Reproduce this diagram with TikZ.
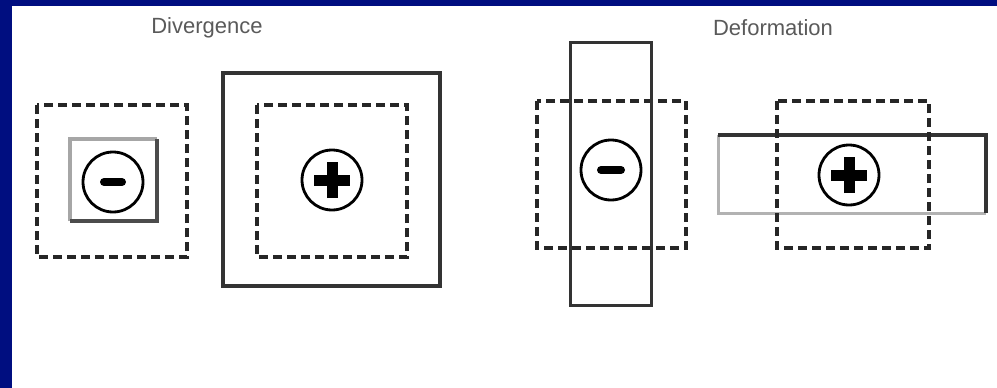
\documentclass[tikz,border=0pt]{standalone}
\usepackage{fontspec}
\setmainfont{Liberation Sans}
\definecolor{bgblue}{RGB}{0,14,128}
\definecolor{lbl}{RGB}{90,90,90}
\begin{document}
\begin{tikzpicture}[x=1pt,y=-1pt,
  dashsq/.style={draw=black!85, line width=3.5pt, dash pattern=on 9pt off 5pt},
  solidbox/.style={draw=black!80, line width=3pt},
  sign/.style={circle, draw=black, line width=2.8pt, minimum size=60pt, inner sep=0pt},
  bar/.style={line width=8pt, line cap=round},
  crossbar/.style={line width=11pt},
  title/.style={font=\fontsize{22}{24}\selectfont, text=lbl, inner sep=0pt}]
\useasboundingbox (0,0) rectangle (997,388);
\fill[bgblue] (0,0) rectangle (997,388);
\fill[white] (12,6) rectangle (997,388);

% titles
\node[title] (tdiv) at (207,28) {Divergence};
\node[title] (tdef) at (773,28) {Deformation};

% ---- Divergence, negative
\draw[dashsq] (37,105) rectangle (187,257);
\draw[line width=3.5pt, black!35] (70,221) -- (70,139) -- (157,139);
\draw[line width=3.5pt, black!70] (157,139) -- (157,221) -- (70,221);
\node[sign] (m1) at (113,182) {};
\draw[bar] ([xshift=-9pt]m1.center) -- ([xshift=9pt]m1.center);

% ---- Divergence, positive
\draw[solidbox, line width=4pt] (223,73) rectangle (440,286);
\draw[dashsq] (257,105) rectangle (407,257);
\node[sign] (p1) at (332,180) {};
\draw[crossbar] ([xshift=-18pt]p1.center) -- ([xshift=18pt]p1.center);
\draw[crossbar] ([yshift=-18pt]p1.center) -- ([yshift=18pt]p1.center);

% ---- Deformation, negative
\draw[dashsq] (537,101) rectangle (686,248);
\draw[solidbox, line width=3pt] (570,42) rectangle (651,305);
\node[sign] (m2) at (611,170) {};
\draw[bar] ([xshift=-10pt]m2.center) -- ([xshift=10pt]m2.center);

% ---- Deformation, positive
\draw[line width=3pt, black!30] (718,135) -- (718,213) -- (986,213);
\draw[line width=4.5pt, black!80] (718,135) -- (986,135) -- (986,213);
\draw[dashsq] (777,101) rectangle (929,248);
\node[sign] (p2) at (849,175) {};
\draw[crossbar] ([xshift=-18pt]p2.center) -- ([xshift=18pt]p2.center);
\draw[crossbar] ([yshift=-18pt]p2.center) -- ([yshift=18pt]p2.center);
\end{tikzpicture}
\end{document}
